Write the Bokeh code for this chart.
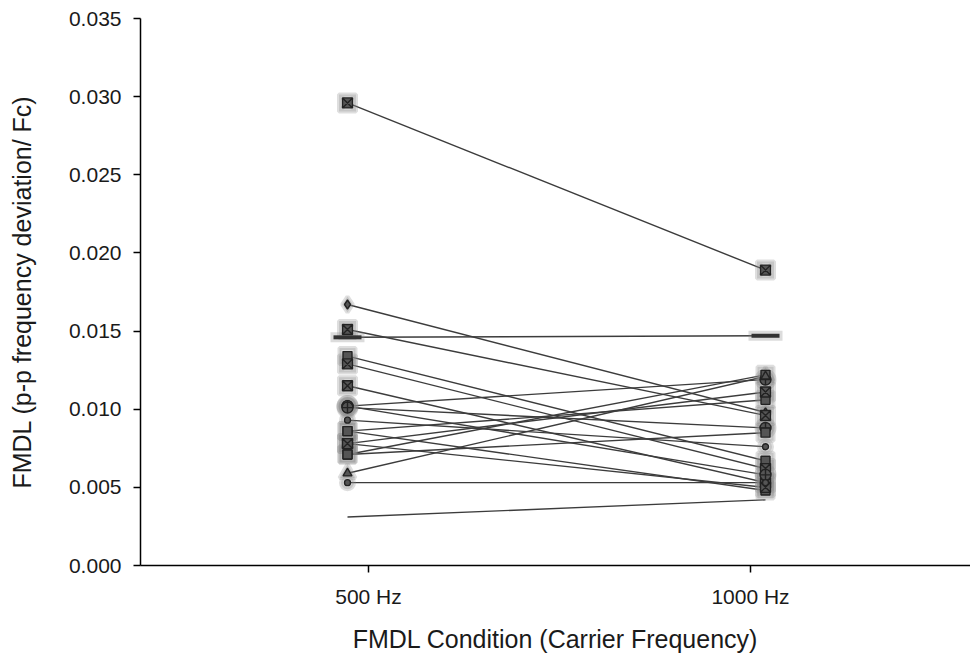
from bokeh.plotting import figure
from bokeh.models import ColumnDataSource, Range1d, LinearAxis, FixedTicker, NumeralTickFormatter
from bokeh.embed import file_html
from bokeh.resources import INLINE

# ---- data ----
categories = ["500 Hz", "1000 Hz"]
fmdl_500 = [0.0296, 0.0167, 0.0151, 0.0146, 0.0134, 0.0129, 0.0115, 0.0102, 0.0102, 0.0101,
            0.0093, 0.0086, 0.0086, 0.0078, 0.0078, 0.0071, 0.0071, 0.0059, 0.0053, 0.0031]
fmdl_1000 = [0.0189, 0.0098, 0.0096, 0.0147, 0.0067, 0.0062, 0.0053, 0.0119, 0.0058, 0.0088,
             0.0076, 0.0048, 0.0106, 0.0111, 0.0050, 0.0085, 0.0122, 0.0121, 0.0053, 0.0042]
y_ticks = [0.000, 0.005, 0.010, 0.015, 0.020, 0.025, 0.030, 0.035]

# ---- styles ----
marker_types = ["square_x", "diamond", "square_x", "dash", "square", "square_x", "square_x",
                "circle_cross", "circle_cross", "circle_cross", "circle", "square", "square",
                "square_x", "square_x", "square", "square", "triangle", "circle", None]
marker_size = {"square_x": 10, "square": 9, "diamond": 9, "dash": 28, "circle_cross": 11,
               "circle": 6, "triangle": 9}

cat_pos = [i + 1 for i in range(len(categories))]

p = figure(width=970, height=656, output_backend="svg", toolbar_location=None,
           x_range=Range1d(0.5048, 2.4904), y_range=Range1d(0, 0.035),
           x_axis_location=None, y_axis_location=None,
           min_border_left=140, min_border_right=0, min_border_top=18, min_border_bottom=91)
p.outline_line_color = None
p.grid.visible = False
p.background_fill_color = "white"
p.border_fill_color = "white"

# lines between conditions
seg = ColumnDataSource(dict(x0=[cat_pos[0]] * len(fmdl_500), y0=fmdl_500,
                            x1=[cat_pos[1]] * len(fmdl_1000), y1=fmdl_1000))
p.segment(x0="x0", y0="y0", x1="x1", y1="y1", source=seg, line_color="#3c3c3c", line_width=1.4)

# markers at both ends
xs, ys, ms, ss, hs = [], [], [], [], []
dx, dy = [], []
for a, b, m in zip(fmdl_500, fmdl_1000, marker_types):
    if m is None:
        continue
    for xv, yv in ((cat_pos[0], a), (cat_pos[1], b)):
        if m == "dash":
            dx.append(xv); dy.append(yv)
            continue
        xs.append(xv); ys.append(yv); ms.append(m)
        ss.append(marker_size[m]); hs.append(marker_size[m] + 7)
msrc = ColumnDataSource(dict(x=xs, y=ys, marker=ms, size=ss, halo=hs))
dsrc = ColumnDataSource(dict(x=dx, y=dy))

# soft shadows
p.scatter(x="x", y="y", marker="marker", size="halo", source=msrc,
          fill_color="#8a8a8a", fill_alpha=0.28, line_color="#8a8a8a", line_alpha=0.28, line_width=4)
p.scatter(x="x", y="y", marker="dash", size=marker_size["dash"] + 6, source=dsrc,
          line_color="#8a8a8a", line_alpha=0.3, line_width=10)
# markers
p.scatter(x="x", y="y", marker="marker", size="size", source=msrc,
          fill_color="#555555", line_color="#222222", line_width=1.4)
p.scatter(x="x", y="y", marker="dash", size=marker_size["dash"], source=dsrc,
          line_color="#333333", line_width=4)

FONT = "Liberation Sans"
TXT = "#1a1a1a"

p.extra_x_ranges = {"cond": Range1d(0.4031, 2.5759)}
xaxis = LinearAxis(x_range_name="cond", ticker=FixedTicker(ticks=cat_pos),
                   major_label_overrides={cat_pos[i]: categories[i] for i in range(len(categories))},
                   axis_label="FMDL Condition (Carrier Frequency)")
yaxis = LinearAxis(ticker=FixedTicker(ticks=y_ticks), formatter=NumeralTickFormatter(format="0.000"),
                   axis_label="FMDL (p-p frequency deviation/ Fc)")
for ax in (xaxis, yaxis):
    ax.axis_line_color = "black"
    ax.axis_line_width = 1.5
    ax.major_tick_line_color = "black"
    ax.major_tick_line_width = 1.5
    ax.major_tick_in = 0
    ax.major_tick_out = 7
    ax.minor_tick_line_color = None
    ax.major_label_text_font = FONT
    ax.major_label_text_font_size = "21px"
    ax.major_label_text_color = TXT
    ax.axis_label_text_font = FONT
    ax.axis_label_text_font_size = "25px"
    ax.axis_label_text_font_style = "normal"
    ax.axis_label_text_color = TXT
xaxis.major_label_standoff = 12
xaxis.axis_label_standoff = 14
yaxis.major_label_standoff = 12
yaxis.axis_label_standoff = 30
p.add_layout(xaxis, "below")
p.add_layout(yaxis, "left")

open("out.html", "w").write(file_html(p, INLINE))
